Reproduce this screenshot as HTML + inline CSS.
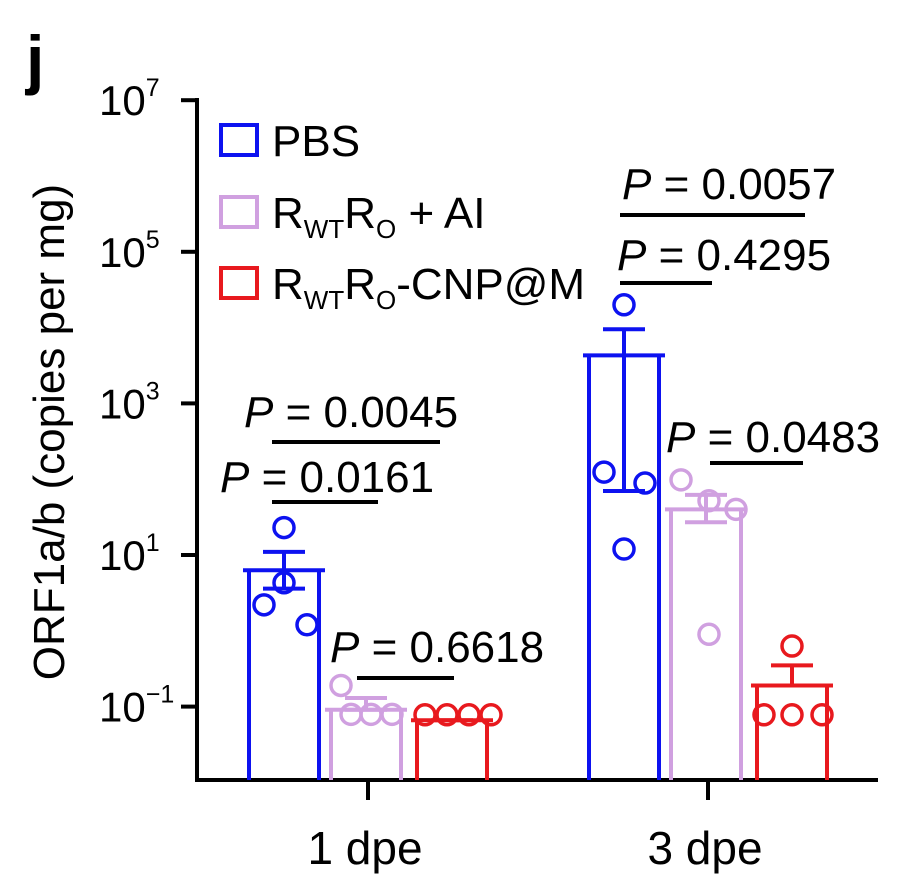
<!DOCTYPE html>
<html><head><meta charset="utf-8"><style>
body{margin:0;background:#fff;}
svg{display:block;font-family:"Liberation Sans",Arial,sans-serif;}
</style></head><body>
<svg id="chart" width="912" height="892" viewBox="0 0 912 892">
<text x="26" y="82" font-size="66" font-weight="bold">j</text>
<text transform="translate(64,432) rotate(-90)" text-anchor="middle" font-size="44">ORF1a/b (copies per mg)</text>
<g id="axes"></g><g id="bars"></g><g id="sig"></g>
<g>
 <rect x="221" y="125" width="36" height="30" fill="none" stroke="#0d12f0" stroke-width="4"/>
 <text x="272" y="156" font-size="44">PBS</text>
 <rect x="221" y="197" width="36" height="30" fill="none" stroke="#d0a0e0" stroke-width="4"/>
 <text x="272" y="228" font-size="44">R<tspan font-size="26" dy="10">WT</tspan><tspan dy="-10">R</tspan><tspan font-size="26" dy="10">O</tspan><tspan dy="-10"> + AI</tspan></text>
 <rect x="221" y="268" width="36" height="30" fill="none" stroke="#e8191e" stroke-width="4"/>
 <text x="272" y="299" font-size="44">R<tspan font-size="26" dy="10">WT</tspan><tspan dy="-10">R</tspan><tspan font-size="26" dy="10">O</tspan><tspan dy="-10">-CNP@M</tspan></text>
</g>
</svg>
<script>
const groups=["1 dpe","3 dpe"];
const seriesNames=["PBS","RWTRO + AI","RWTRO-CNP@M"];
const means=[[6.3,0.091,0.066],[4300,40,0.19]];
const errUp=[[11,0.13,0.066],[9500,62,0.35]];
const errLo=[[3.6,0.091,0.066],[70,27,0.19]];
const points=[[[23,4.3,2.2,1.2],[0.19,0.079,0.079,0.079],[0.078,0.078,0.078,0.078]],
 [[20000,124,89,12],[98,52,40,0.9],[0.63,0.078,0.078,0.078]]];
const ptOffsets=[[[0,0,-20,23],[-25,-15,5,26],[-27,-5,17,39]],[[0,-20,21,0],[-25,3,30,3],[0,-28,0,30]]];
const yTicks=[7,5,3,1,-1];
const sigLabels=["P = 0.0045","P = 0.0161","P = 0.6618","P = 0.0057","P = 0.4295","P = 0.0483"];
const colors=["#0d12f0","#d0a0e0","#e8191e"];
const NS="http://www.w3.org/2000/svg";
function Y(v){return 555-75.8*(Math.log10(v)-1);}
const groupX=[368,708], barOff=[-84,-2,84], barW=76, base=780;
function mk(tag,attrs,parent){const e=document.createElementNS(NS,tag);for(const k in attrs)e.setAttribute(k,attrs[k]);parent.appendChild(e);return e;}
const axes=document.getElementById('axes');
let l=mk('line',{x1:197,y1:98,x2:197,y2:782,stroke:'#000','stroke-width':4},axes);


l=mk('line',{x1:195,y1:780,x2:878,y2:780,stroke:'#000','stroke-width':4},axes);


yTicks.forEach(p=>{const y=Y(Math.pow(10,p));
 const t=mk('line',{x1:181,y1:y,x2:197,y2:y,stroke:'#000','stroke-width':4},axes);
 
 
 const tx=mk('text',{x:99,y:y+15,'font-size':42},axes);
 
 
 tx.textContent='10';const s=mk('tspan',{'font-size':25,dy:-19},tx);s.textContent=p<0?'\u2212'+(-p):p;});
groups.forEach((g,i)=>{
 const t=mk('line',{x1:groupX[i],y1:780,x2:groupX[i],y2:800,stroke:'#000','stroke-width':4},axes);
 
 
 const tx=mk('text',{x:groupX[i]-3,y:864,'text-anchor':'middle','font-size':46},axes);
 
 
 tx.textContent=g;});
const bars=document.getElementById('bars');
groups.forEach((g,gi)=>{seriesNames.forEach((s,si)=>{
 const cx=groupX[gi]+barOff[si], c=colors[si], top=Y(means[gi][si]);
 const b=mk('path',{d:`M${cx-barW/2+3},${base} V${top} M${cx+barW/2-3},${base} V${top} M${cx-barW/2-3},${top} H${cx+barW/2+3}`,fill:'none',stroke:c,'stroke-width':4},bars);
 
 
 const yu=Y(errUp[gi][si]), yl=Y(errLo[gi][si]);
 const e=mk('path',{d:`M${cx},${yu} V${yl} M${cx-21},${yu} H${cx+21} M${cx-21},${yl} H${cx+21}`,fill:'none',stroke:c,'stroke-width':4},bars);
 
 
 points[gi][si].forEach((v,pi)=>{
  const p=mk('circle',{cx:cx+ptOffsets[gi][si][pi],cy:Y(v),r:10,fill:'none',stroke:c,'stroke-width':3.5},bars);
  
  });
});});
const sig=document.getElementById('sig');
const sigLines=[[272,440,442,244,427],[272,378,502,220,492],[357,454,678,330,662],[620,805,215,622,199],[620,712,283,617,270],[710,803,463,666,452]];
sigLabels.forEach((s,i)=>{const d=sigLines[i];
 const ln=mk('line',{x1:d[0],x2:d[1],y1:d[2],y2:d[2],stroke:'#000','stroke-width':4},sig);
 
 
 const t=mk('text',{x:d[3],y:d[4],'font-size':44},sig);
 
 
 const it=mk('tspan',{'font-style':'italic'},t);it.textContent='P';
 const r=mk('tspan',{},t);r.textContent=s.slice(1);});
</script>
</body></html>
